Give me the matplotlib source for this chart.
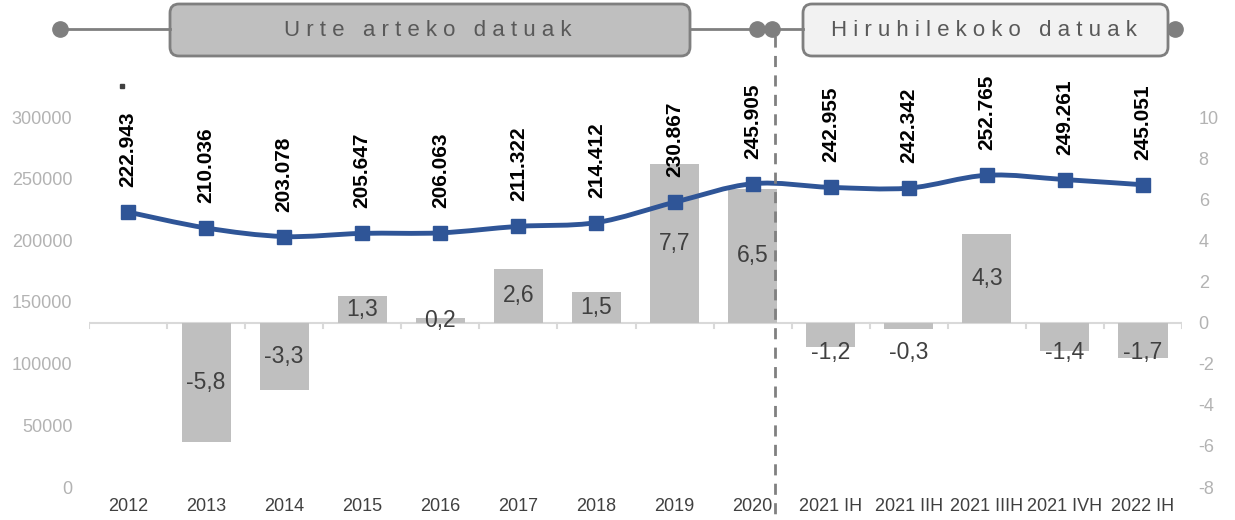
import matplotlib
matplotlib.use("Agg")
import matplotlib.pyplot as plt
from matplotlib.patches import FancyBboxPatch, PathPatch
from matplotlib.path import Path

plt.rcParams['font.family'] = ['Liberation Sans', 'DejaVu Sans']
plt.rcParams['axes.unicode_minus'] = False

# data
categories = ['2012', '2013', '2014', '2015', '2016', '2017', '2018', '2019', '2020',
              '2021 IH', '2021 IIH', '2021 IIIH', '2021 IVH', '2022 IH']
employment = [222943, 210036, 203078, 205647, 206063, 211322, 214412, 230867, 245905,
              242955, 242342, 252765, 249261, 245051]
change_pct = [None, -5.8, -3.3, 1.3, 0.2, 2.6, 1.5, 7.7, 6.5,
              -1.2, -0.3, 4.3, -1.4, -1.7]
n_annual = 9
left_ticks = [0, 50000, 100000, 150000, 200000, 250000, 300000]
right_ticks = [-8, -6, -4, -2, 0, 2, 4, 6, 8, 10]

bar_color = '#bfbfbf'
line_color = '#2f5597'
grey_txt = '#b3b3b3'

W, H = 1235, 520
fig = plt.figure(figsize=(W / 100, H / 100), dpi=100)
ax = fig.add_axes([89 / W, 1 - 487 / H, (1182 - 89) / W, (487 - 117) / H])
ax2 = ax.twinx()

x = list(range(len(categories)))

# bars -> right scale (primary axes, drawn underneath)
for i, v in enumerate(change_pct):
    if v is None:
        continue
    ax.bar(i, v, width=0.63, color=bar_color, zorder=2)
    if i >= n_annual and v < 0:
        ly = -1.45
    else:
        ly = v / 2
    ax.text(i, ly, f"{v:.1f}".replace('.', ','), ha='center', va='center',
            fontsize=16.5, color='#404040', zorder=3)

ax.set_ylim(-8, 10)
ax.set_xlim(-0.5, len(categories) - 0.5)
ax.set_yticks(right_ticks)
ax.yaxis.tick_right()
ax.tick_params(axis='y', length=0, labelsize=13, labelcolor=grey_txt, pad=12)

# baseline with category-boundary ticks
ax.axhline(0, color='#d9d9d9', lw=1.5, zorder=1)
for b in range(len(categories) + 1):
    ax.plot([b - 0.5, b - 0.5], [0, -0.25], color='#d9d9d9', lw=1.5, zorder=1)

ax.set_xticks(x)
ax.set_xticklabels(categories)
ax.tick_params(axis='x', length=0, labelsize=13, labelcolor='#404040', pad=8)

# line -> left scale (smoothed like the original)
pts = list(zip(x, employment))
verts = [pts[0]]
codes = [Path.MOVETO]
for i in range(len(pts) - 1):
    p0 = pts[max(i - 1, 0)]
    p1 = pts[i]
    p2 = pts[i + 1]
    p3 = pts[min(i + 2, len(pts) - 1)]
    c1 = (p1[0] + (p2[0] - p0[0]) / 6, p1[1] + (p2[1] - p0[1]) / 6)
    c2 = (p2[0] - (p3[0] - p1[0]) / 6, p2[1] - (p3[1] - p1[1]) / 6)
    verts += [c1, c2, p2]
    codes += [Path.CURVE4] * 3
ax2.add_patch(PathPatch(Path(verts, codes), fill=False, edgecolor=line_color, lw=3.5, zorder=4))
ax2.plot(x, employment, ls='none', marker='s', ms=10, color=line_color, zorder=5)
for i, v in enumerate(employment):
    ax2.annotate(f"{v:,}".replace(',', '.'), (i, v), xytext=(0, 18), textcoords='offset points',
                 rotation=90, ha='center', va='bottom', fontsize=15, fontweight='bold',
                 color='black', annotation_clip=False)

ax2.set_ylim(0, 300000)
ax2.set_yticks(left_ticks)
ax2.yaxis.tick_left()
ax2.tick_params(axis='y', length=0, labelsize=13, labelcolor=grey_txt, pad=12)

for a in (ax, ax2):
    for s in a.spines.values():
        s.set_visible(False)

# header overlay in pixel coordinates
ov = fig.add_axes([0, 0, 1, 1], zorder=10)
ov.set_xlim(0, W)
ov.set_ylim(H, 0)
ov.axis('off')
ov.patch.set_alpha(0)

edge = '#7f7f7f'
ov.plot([60, 170], [29, 29], color=edge, lw=2)
ov.plot([690, 803], [29, 29], color=edge, lw=2)
ov.plot([60, 757, 772, 1175], [29, 29, 29, 29], ls='none', marker='o', ms=11, color=edge)
ov.add_patch(FancyBboxPatch((170, 4), 520, 52, boxstyle="round,pad=0,rounding_size=9",
                            facecolor='#bfbfbf', edgecolor=edge, lw=2))
ov.add_patch(FancyBboxPatch((803, 4), 365, 52, boxstyle="round,pad=0,rounding_size=9",
                            facecolor='#f2f2f2', edgecolor=edge, lw=2))
ov.text(428, 30, "U r t e   a r t e k o   d a t u a k", ha='center', va='center',
        fontsize=16, color='#595959')
ov.text(984, 30, "H i r u h i l e k o k o   d a t u a k", ha='center', va='center',
        fontsize=16, color='#595959')
ov.plot([775, 775], [36, 520], color='#808080', lw=2, ls=(0, (4, 3)))
ov.plot([122], [86], ls='none', marker='s', ms=2.5, color='#404040')

fig.savefig('out.png', dpi=100)
